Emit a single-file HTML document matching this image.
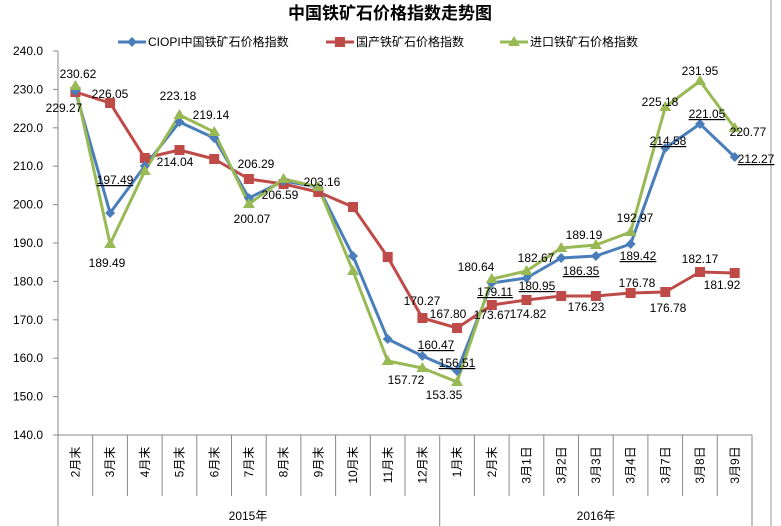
<!DOCTYPE html>
<html><head><meta charset="utf-8"><style>
body{margin:0;background:#fff}
svg{display:block}
text{font-family:"Liberation Sans","Noto Sans CJK SC",sans-serif;font-size:12px;fill:#000}
</style></head><body>
<svg width="781" height="526" viewBox="0 0 781 526">
<rect width="781" height="526" fill="#fff"/>
<line x1="771" y1="0" x2="771" y2="526" stroke="#999" stroke-width="1"/>
<text x="390" y="19" text-anchor="middle" style="font-size:17px;font-weight:bold;font-family:'Noto Sans CJK SC',sans-serif">中国铁矿石价格指数走势图</text>
<g stroke-width="3">
<line x1="118" y1="42" x2="146" y2="42" stroke="#4a7ebb"/><path d="M132 37 L137 42 L132 47 L127 42Z" fill="#4a7ebb"/>
<line x1="326" y1="42" x2="354" y2="42" stroke="#be4b48"/><rect x="335" y="37" width="10" height="10" fill="#be4b48" stroke="none"/>
<line x1="500" y1="42" x2="528" y2="42" stroke="#98b954"/><path d="M514 36 L520 46 L508 46Z" fill="#98b954"/>
</g>
<text x="148" y="46">CIOPI中国铁矿石价格指数</text>
<text x="356" y="46">国产铁矿石价格指数</text>
<text x="530" y="46">进口铁矿石价格指数</text>
<g stroke="#888" stroke-width="1">
<line x1="58" y1="51" x2="58" y2="526"/>
<line x1="58" y1="435" x2="752" y2="435"/>
<line x1="53" y1="51" x2="58" y2="51"/><line x1="53" y1="89.4" x2="58" y2="89.4"/><line x1="53" y1="127.8" x2="58" y2="127.8"/><line x1="53" y1="166.2" x2="58" y2="166.2"/><line x1="53" y1="204.6" x2="58" y2="204.6"/><line x1="53" y1="243" x2="58" y2="243"/><line x1="53" y1="281.4" x2="58" y2="281.4"/><line x1="53" y1="319.8" x2="58" y2="319.8"/><line x1="53" y1="358.2" x2="58" y2="358.2"/><line x1="53" y1="396.6" x2="58" y2="396.6"/><line x1="53" y1="435" x2="58" y2="435"/>
<line x1="92.7" y1="435" x2="92.7" y2="496"/><line x1="127.4" y1="435" x2="127.4" y2="496"/><line x1="162.1" y1="435" x2="162.1" y2="496"/><line x1="196.8" y1="435" x2="196.8" y2="496"/><line x1="231.5" y1="435" x2="231.5" y2="496"/><line x1="266.2" y1="435" x2="266.2" y2="496"/><line x1="300.9" y1="435" x2="300.9" y2="496"/><line x1="335.6" y1="435" x2="335.6" y2="496"/><line x1="370.3" y1="435" x2="370.3" y2="496"/><line x1="405" y1="435" x2="405" y2="496"/>
<line x1="439.7" y1="435" x2="439.7" y2="526"/>
<line x1="474.4" y1="435" x2="474.4" y2="496"/><line x1="509.1" y1="435" x2="509.1" y2="496"/><line x1="543.8" y1="435" x2="543.8" y2="496"/><line x1="578.5" y1="435" x2="578.5" y2="496"/><line x1="613.2" y1="435" x2="613.2" y2="496"/><line x1="647.9" y1="435" x2="647.9" y2="496"/><line x1="682.6" y1="435" x2="682.6" y2="496"/><line x1="717.3" y1="435" x2="717.3" y2="496"/><line x1="752" y1="435" x2="752" y2="526"/>
</g>
<g text-anchor="end">
<text x="43" y="55">240.0</text><text x="43" y="93.4">230.0</text><text x="43" y="131.8">220.0</text><text x="43" y="170.2">210.0</text><text x="43" y="208.6">200.0</text><text x="43" y="247">190.0</text><text x="43" y="285.4">180.0</text><text x="43" y="323.8">170.0</text><text x="43" y="362.2">160.0</text><text x="43" y="400.6">150.0</text><text x="43" y="439">140.0</text>
</g>
<g text-anchor="middle">
<text transform="translate(79.5,462) rotate(-90)">2月末</text>
<text transform="translate(114.2,462) rotate(-90)">3月末</text>
<text transform="translate(148.9,462) rotate(-90)">4月末</text>
<text transform="translate(183.6,462) rotate(-90)">5月末</text>
<text transform="translate(218.3,462) rotate(-90)">6月末</text>
<text transform="translate(253,462) rotate(-90)">7月末</text>
<text transform="translate(287.7,462) rotate(-90)">8月末</text>
<text transform="translate(322.4,462) rotate(-90)">9月末</text>
<text transform="translate(357.1,465) rotate(-90)">10月末</text>
<text transform="translate(391.8,465) rotate(-90)">11月末</text>
<text transform="translate(426.5,465) rotate(-90)">12月末</text>
<text transform="translate(461.2,462) rotate(-90)">1月末</text>
<text transform="translate(495.9,462) rotate(-90)">2月末</text>
<text transform="translate(530.6,465) rotate(-90)">3月1日</text>
<text transform="translate(565.3,465) rotate(-90)">3月2日</text>
<text transform="translate(600,465) rotate(-90)">3月3日</text>
<text transform="translate(634.7,465) rotate(-90)">3月4日</text>
<text transform="translate(669.4,465) rotate(-90)">3月7日</text>
<text transform="translate(704.1,465) rotate(-90)">3月8日</text>
<text transform="translate(738.8,465) rotate(-90)">3月9日</text>
<text x="248" y="520">2015年</text>
<text x="596" y="520">2016年</text>
</g>
<g fill="none" stroke-width="3" stroke-linejoin="round">
<polyline stroke="#be4b48" points="75.4,92 110.1,103 144.8,158 179.5,150 214.2,159 248.9,179 283.6,184 318.3,192 353,207 387.7,257 422.4,318 457.1,328 491.8,305 526.5,300 561.2,296 595.9,296 630.6,293 665.3,292 700,272 734.7,273"/>
<polyline stroke="#4a7ebb" points="75.4,91 110.1,213 144.8,166 179.5,122 214.2,138 248.9,198 283.6,181 318.3,187 353,256 387.7,339 422.4,356 457.1,371 491.8,283 526.5,278 561.2,258 595.9,256 630.6,244 665.3,148 700,124 734.7,157"/>
<polyline stroke="#98b954" points="75.4,86 110.1,244 144.8,171 179.5,115 214.2,132 248.9,204 283.6,179 318.3,187 353,271 387.7,361 422.4,368 457.1,382 491.8,279 526.5,271 561.2,248 595.9,245 630.6,232 665.3,107 700,81 734.7,128"/>
</g>
<g fill="#be4b48">
<rect x="70.4" y="87" width="10" height="10"/><rect x="105.1" y="98" width="10" height="10"/><rect x="139.8" y="153" width="10" height="10"/><rect x="174.5" y="145" width="10" height="10"/><rect x="209.2" y="154" width="10" height="10"/><rect x="243.9" y="174" width="10" height="10"/><rect x="278.6" y="179" width="10" height="10"/><rect x="313.3" y="187" width="10" height="10"/><rect x="348" y="202" width="10" height="10"/><rect x="382.7" y="252" width="10" height="10"/><rect x="417.4" y="313" width="10" height="10"/><rect x="452.1" y="323" width="10" height="10"/><rect x="486.8" y="300" width="10" height="10"/><rect x="521.5" y="295" width="10" height="10"/><rect x="556.2" y="291" width="10" height="10"/><rect x="590.9" y="291" width="10" height="10"/><rect x="625.6" y="288" width="10" height="10"/><rect x="660.3" y="287" width="10" height="10"/><rect x="695" y="267" width="10" height="10"/><rect x="729.7" y="268" width="10" height="10"/>
</g>
<g fill="#4a7ebb">
<path d="M75.4 86l5 5-5 5-5-5z M110.1 208l5 5-5 5-5-5z M144.8 161l5 5-5 5-5-5z M179.5 117l5 5-5 5-5-5z M214.2 133l5 5-5 5-5-5z M248.9 193l5 5-5 5-5-5z M283.6 176l5 5-5 5-5-5z M318.3 182l5 5-5 5-5-5z M353 251l5 5-5 5-5-5z M387.7 334l5 5-5 5-5-5z M422.4 351l5 5-5 5-5-5z M457.1 366l5 5-5 5-5-5z M491.8 278l5 5-5 5-5-5z M526.5 273l5 5-5 5-5-5z M561.2 253l5 5-5 5-5-5z M595.9 251l5 5-5 5-5-5z M630.6 239l5 5-5 5-5-5z M665.3 143l5 5-5 5-5-5z M700 119l5 5-5 5-5-5z M734.7 152l5 5-5 5-5-5z"/>
</g>
<g fill="#98b954">
<path d="M75.4 80l6 10h-12z M110.1 238l6 10h-12z M144.8 165l6 10h-12z M179.5 109l6 10h-12z M214.2 126l6 10h-12z M248.9 198l6 10h-12z M283.6 173l6 10h-12z M318.3 181l6 10h-12z M353 265l6 10h-12z M387.7 355l6 10h-12z M422.4 362l6 10h-12z M457.1 376l6 10h-12z M491.8 273l6 10h-12z M526.5 265l6 10h-12z M561.2 242l6 10h-12z M595.9 239l6 10h-12z M630.6 226l6 10h-12z M665.3 101l6 10h-12z M700 75l6 10h-12z M734.7 122l6 10h-12z"/>
</g>
<g text-anchor="middle">
<text x="78" y="78">230.62</text><text x="64" y="112">229.27</text><text x="110" y="98">226.05</text>
<text x="115" y="184" text-decoration="underline">197.49</text><text x="107" y="267">189.49</text>
<text x="178" y="100">223.18</text><text x="211" y="119">219.14</text><text x="175" y="166">214.04</text>
<text x="256" y="168">206.29</text><text x="252" y="223">200.07</text><text x="280" y="199">206.59</text><text x="322" y="186">203.16</text>
<text x="422" y="305">170.27</text><text x="448" y="318">167.80</text><text x="436" y="349" text-decoration="underline">160.47</text>
<text x="457" y="367" text-decoration="underline">156.51</text><text x="406" y="384">157.72</text><text x="444" y="399">153.35</text>
<text x="476" y="271">180.64</text><text x="495" y="296" text-decoration="underline">179.11</text><text x="492" y="319">173.67</text>
<text x="536" y="262">182.67</text><text x="537" y="290" text-decoration="underline">180.95</text><text x="528" y="318">174.82</text>
<text x="584" y="239">189.19</text><text x="581" y="275" text-decoration="underline">186.35</text><text x="586" y="311">176.23</text>
<text x="635" y="222">192.97</text><text x="638" y="260" text-decoration="underline">189.42</text><text x="637" y="287">176.78</text><text x="668" y="312">176.78</text>
<text x="660" y="106">225.18</text><text x="668" y="145" text-decoration="underline">214.58</text>
<text x="700" y="75">231.95</text><text x="707" y="118" text-decoration="underline">221.05</text><text x="700" y="263">182.17</text>
<text x="748" y="136">220.77</text><text x="756" y="163" text-decoration="underline">212.27</text><text x="722" y="289">181.92</text>
</g>
</svg>
</body></html>
